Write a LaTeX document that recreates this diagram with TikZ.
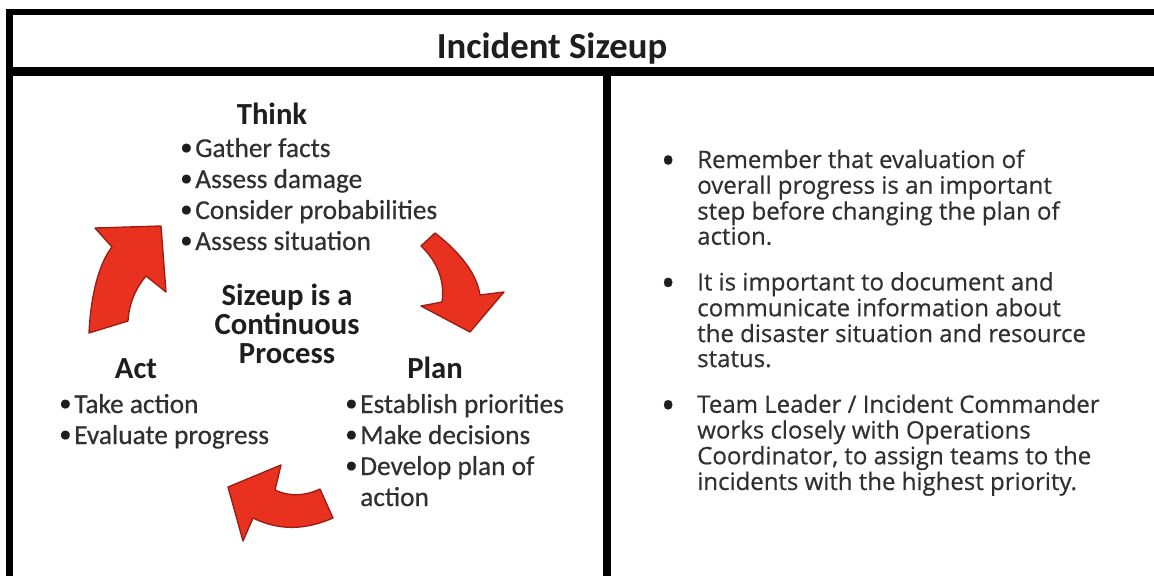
\documentclass[tikz,border=0pt]{standalone}
\usepackage{fontspec}
\setmainfont{Carlito}
\newfontfamily\stepfont{Carlito}[FakeBold=0.5]
\newfontfamily\notefont{Open Sans}[FakeBold=0.5]
\usetikzlibrary{positioning}
\definecolor{Ink}{HTML}{1E1E1E}
\definecolor{BodyText}{HTML}{303030}
\definecolor{ArrowRed}{HTML}{E8321F}
\definecolor{ArrowEdge}{HTML}{9B1C14}
\newcommand{\stepbul}{\makebox[11.25pt][l]{\color{Ink}\raisebox{1.5pt}{\scalebox{0.9}{\textbullet}}}}
\newcommand{\notebul}{\makebox[26.25pt][l]{\hspace{-1pt}\color{Ink}\raisebox{-4.5pt}{\scalebox{1.6}{\textbullet}}}}
\tikzset{
  frame/.style={fill=black},
  title/.style={inner sep=0pt, anchor=base, text=Ink,
    font=\fontsize{27.5}{30}\selectfont\bfseries},
  heading/.style={inner sep=0pt, anchor=base, text=Ink,
    font=\fontsize{23}{21}\selectfont\bfseries},
  steplist/.style={inner sep=0pt, anchor=base west, text=BodyText,
    font=\stepfont\fontsize{20.5}{23.25}\selectfont},
  note/.style={inner sep=0pt, anchor=base west, text=BodyText,
    font=\notefont\fontsize{18}{18.75}\selectfont},
  cyclearrow/.style={fill=ArrowRed, draw=ArrowEdge, line width=1pt, line join=round}
}

\begin{document}
\begin{tikzpicture}[x=0.75pt,y=-0.75pt]
    \useasboundingbox (0,0) rectangle (1154,576);
    \fill[white] (0,0) rectangle (1154,576);

    % table rules
    \fill[frame] (6,9) rectangle (1154,15);
    \fill[frame] (6,67) rectangle (1154,76);
    \fill[frame] (6,9) rectangle (13,576);
    \fill[frame] (603,76) rectangle (611,576);

    \node[title] (head) at (552,58) {Incident Sizeup};

    % the sizeup cycle
    \node[heading] (think) at (272,124) {Think};
    \node[steplist] (thinklist) at (180,157) {\begin{tabular}[t]{@{}l@{}l@{}}
      \stepbul & Gather facts\\
      \stepbul & Assess damage\\
      \stepbul & Consider probabilities\\
      \stepbul & Assess situation
    \end{tabular}};
    \node[heading] (core) at (287,305) {\begin{tabular}[t]{@{}c@{}}
      Sizeup is a\\ Continuous\\ Process
    \end{tabular}};
    \node[heading] (act) at (136,378) {Act};
    \node[steplist] (actlist) at (59,413) {\begin{tabular}[t]{@{}l@{}l@{}}
      \stepbul & Take action\\
      \stepbul & Evaluate progress
    \end{tabular}};
    \node[heading] (plan) at (435,378) {Plan};
    \node[steplist] (planlist) at (345,413) {\begin{tabular}[t]{@{}l@{}l@{}}
      \stepbul & Establish priorities\\
      \stepbul & Make decisions\\
      \stepbul & Develop plan of\\
               & action
    \end{tabular}};

    % arrows
    \draw[cyclearrow] (89,333) .. controls (91,292) and (100,262) .. (112,247)
      -- (95,228) -- (161,226) -- (166,292) -- (146,276)
      .. controls (136,288) and (129,303) .. (128,321) -- cycle;
    \draw[cyclearrow] (435,233) .. controls (462,254) and (477,275) .. (480,295)
      -- (504,292) -- (470,332) -- (421,306) -- (442,302)
      .. controls (445,282) and (438,262) .. (421,246) -- cycle;
    \draw[cyclearrow] (320,489) .. controls (305,496) and (290,497) .. (275,490)
      -- (281,465) -- (228,487) -- (243,541) -- (253,518)
      .. controls (280,531) and (305,530) .. (333,518) -- cycle;

    % notes column
    \node[note] (notes) at (662,168) {\begin{tabular}[t]{@{}l@{}l@{}}
      \notebul & Remember that evaluation of\\
               & overall progress is an important\\
               & step before changing the plan of\\
               & action.\\[15pt]
      \notebul & It is important to document and\\
               & communicate information about\\
               & the disaster situation and resource\\
               & status.\\[15pt]
      \notebul & Team Leader / Incident Commander\\
               & works closely with Operations\\
               & Coordinator, to assign teams to the\\
               & incidents with the highest priority.
    \end{tabular}};
\end{tikzpicture}
\end{document}
